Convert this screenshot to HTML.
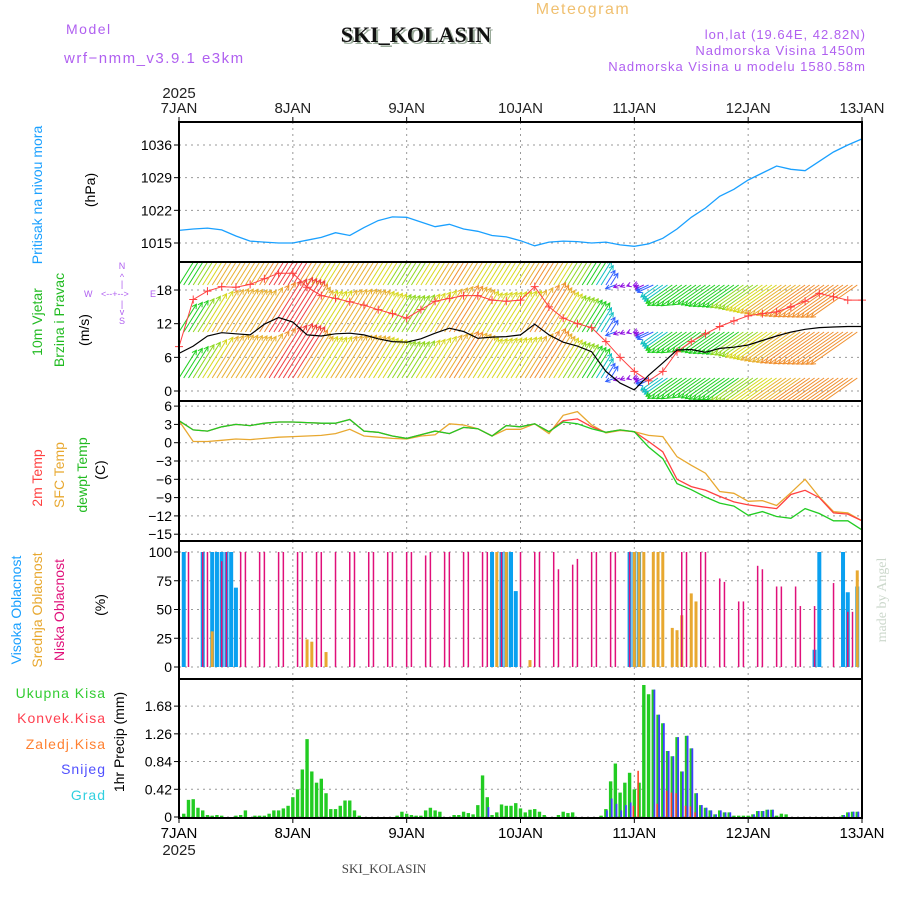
<!DOCTYPE html>
<html><head><meta charset="utf-8"><style>
html,body{margin:0;padding:0;background:#fff;}
svg{display:block;font-family:"Liberation Sans",sans-serif;}
</style></head><body>
<svg id="chart" width="900" height="900" viewBox="0 0 900 900">
<defs>
<clipPath id="cw"><rect x="179" y="262" width="683" height="139"/></clipPath>
</defs>
<rect x="0" y="0" width="900" height="900" fill="#fff"/>
<text x="66" y="34" font-size="14" fill="#b060f0" letter-spacing="1.5">Model</text>
<text x="64" y="63" font-size="15" fill="#b060f0" letter-spacing="1.5">wrf−nmm_v3.9.1  e3km</text>
<text x="418" y="44" font-size="22" font-weight="bold" font-family="Liberation Serif,serif" fill="#9a9" text-anchor="middle">SKI_KOLASIN</text>
<text x="416" y="42" font-size="22" font-weight="bold" font-family="Liberation Serif,serif" fill="#111" text-anchor="middle">SKI_KOLASIN</text>
<text x="583" y="14" font-size="16" fill="#f0c070" text-anchor="middle" letter-spacing="1.5">Meteogram</text>
<text x="866" y="39" font-size="13" fill="#b060f0" text-anchor="end" letter-spacing="1">lon,lat (19.64E, 42.82N)</text>
<text x="866" y="55" font-size="13" fill="#b060f0" text-anchor="end" letter-spacing="1">Nadmorska Visina 1450m</text>
<text x="866" y="71" font-size="13" fill="#b060f0" text-anchor="end" letter-spacing="1">Nadmorska Visina u modelu 1580.58m</text>
<text x="179" y="98" font-size="15" fill="#222" text-anchor="middle">2025</text>
<text transform="translate(42,195) rotate(-90)" font-size="14" fill="#1aa0ff" text-anchor="middle">Pritisak na nivou mora</text>
<text transform="translate(95,190) rotate(-90)" font-size="14" fill="#000" text-anchor="middle">(hPa)</text>
<text transform="translate(42,322) rotate(-90)" font-size="14" fill="#22bb22" text-anchor="middle">10m Vjetar</text>
<text transform="translate(64,320) rotate(-90)" font-size="14" fill="#22bb22" text-anchor="middle">Brzina i Pravac</text>
<text transform="translate(89,330) rotate(-90)" font-size="14" fill="#000" text-anchor="middle">(m/s)</text>
<g font-size="9" fill="#b060f0">
<text x="122" y="269" text-anchor="middle">N</text>
<text x="122" y="280" text-anchor="middle">^</text>
<text x="122" y="287" text-anchor="middle">|</text>
<text x="84" y="297">W</text>
<text x="101" y="297">&lt;--+--&gt;</text>
<text x="150" y="297">E</text>
<text x="122" y="307" text-anchor="middle">|</text>
<text x="122" y="315" text-anchor="middle">v</text>
<text x="122" y="324" text-anchor="middle">S</text>
</g>
<text transform="translate(42,478) rotate(-90)" font-size="14" fill="#ff4040" text-anchor="middle">2m Temp</text>
<text transform="translate(64,475) rotate(-90)" font-size="14" fill="#e8a830" text-anchor="middle">SFC Temp</text>
<text transform="translate(87,475) rotate(-90)" font-size="14" fill="#22bb22" text-anchor="middle">dewpt Temp</text>
<text transform="translate(105,470) rotate(-90)" font-size="14" fill="#000" text-anchor="middle">(C)</text>
<text transform="translate(21,610) rotate(-90)" font-size="14" fill="#1aa0ff" text-anchor="middle">Visoka Oblacnost</text>
<text transform="translate(42,610) rotate(-90)" font-size="14" fill="#e8a830" text-anchor="middle">Srednja Oblacnost</text>
<text transform="translate(64,610) rotate(-90)" font-size="14" fill="#e0107a" text-anchor="middle">Niska Oblacnost</text>
<text transform="translate(105,605) rotate(-90)" font-size="14" fill="#000" text-anchor="middle">(%)</text>
<g font-size="14" text-anchor="end" letter-spacing="1">
<text x="106" y="698" fill="#33cc33">Ukupna Kisa</text>
<text x="106" y="723" fill="#ff4050">Konvek.Kisa</text>
<text x="106" y="749" fill="#ff8030">Zaledj.Kisa</text>
<text x="106" y="774" fill="#5050ff">Snijeg</text>
<text x="106" y="800" fill="#30d0e0">Grad</text>
</g>
<text transform="translate(124,742) rotate(-90)" font-size="14" fill="#000" text-anchor="middle">1hr Precip (mm)</text>
<text x="179" y="855" font-size="15" fill="#222" text-anchor="middle">2025</text>
<text x="384" y="873" font-size="13" font-family="Liberation Serif,serif" fill="#444" text-anchor="middle">SKI_KOLASIN</text>
<text transform="translate(886,600) rotate(-90)" font-size="14" font-family="Liberation Serif,serif" fill="#ccd8cc" text-anchor="middle">made by Angel</text>
<g id="plot"></g>
</svg>
<script>
const dayLabels = ["7JAN","8JAN","9JAN","10JAN","11JAN","12JAN","13JAN"];
const pressTicks = [1015,1022,1029,1036];
const windTicks = [0,6,12,18];
const tempTicks = [6,3,0,-3,-6,-9,-12,-15];
const cloudTicks = [0,25,50,75,100];
const precipTicks = [0,0.42,0.84,1.26,1.68];
const pressure = [1017.7,1018,1018.2,1017.8,1016.5,1015.4,1015.2,1015,1015,1015.6,1016.2,1017.2,1016.6,1018.3,1019.8,1020.6,1020.5,1019.5,1018.5,1019,1018,1017.5,1016.6,1016.3,1015.5,1014.4,1015.2,1015.4,1015.3,1015,1015.2,1014.6,1014.3,1014.8,1016,1018,1020.5,1022.5,1025,1026.5,1028.5,1030,1031.5,1030.8,1030.5,1032.5,1034.5,1036,1037.3];
const windSpeed = [6.7,8.0,9.8,10.4,10.2,10.0,11.9,13.1,12.3,10.0,9.8,10.2,10.3,10.0,9.3,8.8,8.7,9.3,10.3,11.2,10.6,9.4,9.6,9.7,10.0,11.9,10.0,8.7,8.0,7.0,3.5,1.4,0.2,2.8,5.0,7.3,7.4,6.9,7.6,7.8,8.2,9.0,9.8,10.5,11.0,11.3,11.4,11.5,11.5];
const windGust = [7.9,16.3,17.8,18.6,18.5,19.0,20.0,21.0,21.0,18.5,17.0,16.5,15.9,15.3,14.5,13.8,13.0,14.5,16.0,16.5,17.0,17.0,16.2,16.0,16.2,18.6,15.0,13.0,12.0,11.3,8.8,6.0,3.5,1.8,3.5,7.0,8.8,10.2,11.5,12.5,13.4,13.8,14.1,15.0,16.0,17.4,16.8,16.2,16.2];
const windDir = [32,32,32,32,32,32,32,32,32,32,32,32,32,32,32,32,32,32,32,32,32,32,32,32,32,32,32,32,32,32,32,250,250,245,235,235,235,235,235,235,235,235,235,235,235,235,235,235,235];
const temp2m = [3.6,2.1,1.9,2.6,3.0,2.8,3.2,3.4,3.4,3.3,3.2,3.2,3.8,1.9,1.7,1.1,0.7,1.3,1.9,1.5,2.5,2.3,1.1,2.8,2.6,3.1,1.8,3.6,3.9,2.6,1.7,2.1,1.8,0.2,-1.5,-6.0,-7.2,-7.8,-8.8,-9.7,-10.2,-10.5,-10.8,-8.5,-7.8,-9.0,-11.5,-11.7,-12.8];
const tempSfc = [3.6,0.2,0.2,0.4,0.6,0.5,0.7,0.9,1.0,1.1,1.2,1.5,2.2,1.1,0.9,0.7,0.6,1.1,1.3,3.1,2.9,2.3,1.1,2.2,2.2,3.1,1.5,4.5,5.1,2.9,1.6,2.0,1.8,1.2,1.0,-2.3,-3.7,-5.0,-8.0,-8.3,-9.6,-9.5,-10.3,-8.2,-6.0,-8.9,-11.3,-11.5,-12.8];
const dewPoint = [3.6,2.1,1.9,2.6,3.0,2.8,3.2,3.4,3.4,3.3,3.2,3.2,3.8,1.9,1.7,1.1,0.7,1.3,1.9,1.5,2.5,2.3,1.1,2.8,2.6,3.1,1.8,3.4,3.1,2.3,1.7,2.1,1.8,-0.7,-2.6,-6.7,-7.7,-8.9,-9.9,-10.4,-11.9,-11.3,-12.1,-12.4,-10.8,-11.6,-12.8,-12.8,-14.3];
const lowCloud = [[2,100],[5,100],[6,100],[9,92],[10,100],[13,100],[14,100],[17,100],[18,100],[21,100],[22,100],[25,100],[26,100],[29,100],[30,100],[33,100],[36,100],[37,100],[40,100],[41,100],[44,100],[45,100],[48,100],[49,100],[52,97],[53,100],[56,100],[57,100],[60,100],[61,100],[64,100],[65,100],[68,100],[72,100],[75,100],[76,100],[79,100],[80,85],[83,89],[84,94],[87,100],[88,100],[91,100],[92,100],[95,100],[106,100],[107,100],[110,100],[111,100],[114,77],[115,74],[118,57],[119,57],[122,88],[123,85],[126,70],[127,70],[130,70],[131,53],[134,53],[138,73],[141,48],[142,48]];
const highCloud = [[1,100],[5,100],[7,100],[8,100],[9,100],[10,100],[11,100],[12,69],[66,100],[68,100],[69,100],[70,100],[71,66],[95,100],[96,100],[97,100],[134,15],[135,100],[140,100],[141,65],[143,70]];
const midCloud = [[7,31],[27,24],[28,22],[31,13],[67,100],[69,100],[74,6],[96,100],[97,100],[98,100],[100,100],[101,100],[102,100],[104,34],[105,32],[106,45],[108,64],[109,57],[143,84]];
const precipTotal = [[1,0.05],[2,0.26],[3,0.27],[4,0.14],[5,0.1],[6,0.03],[7,0.02],[8,0.03],[9,0.02],[12,0.02],[13,0.03],[14,0.1],[16,0.02],[17,0.02],[18,0.02],[19,0.05],[20,0.1],[21,0.1],[22,0.13],[23,0.17],[24,0.3],[25,0.42],[26,0.72],[27,1.18],[28,0.69],[29,0.52],[30,0.58],[31,0.36],[32,0.12],[33,0.12],[34,0.17],[35,0.25],[36,0.25],[37,0.1],[38,0.02],[46,0.02],[47,0.08],[48,0.05],[49,0.03],[50,0.02],[51,0.02],[52,0.1],[53,0.14],[54,0.1],[55,0.08],[58,0.03],[59,0.03],[60,0.08],[61,0.06],[62,0.04],[63,0.18],[64,0.63],[65,0.3],[66,0.03],[67,0.07],[68,0.19],[69,0.17],[70,0.17],[71,0.21],[72,0.13],[73,0.07],[74,0.11],[75,0.12],[76,0.08],[77,0.03],[80,0.03],[81,0.08],[82,0.06],[83,0.07],[89,0.02],[90,0.12],[91,0.54],[92,0.81],[93,0.37],[94,0.52],[95,0.67],[96,0.42],[97,0.52],[98,2.0],[99,1.86],[100,1.93],[101,1.55],[102,1.42],[103,1.0],[104,0.92],[105,1.21],[106,0.69],[107,1.23],[108,1.04],[109,0.36],[110,0.18],[111,0.14],[112,0.1],[113,0.04],[114,0.1],[115,0.07],[116,0.07],[117,0.02],[118,0.02],[119,0.02],[120,0.02],[121,0.04],[122,0.09],[123,0.09],[124,0.11],[125,0.11],[126,0.02],[127,0.05],[128,0.04],[140,0.03],[141,0.07],[142,0.08],[143,0.08]];
const precipSnow = [[65,0.15],[90,0.1],[91,0.28],[92,0.2],[93,0.1],[94,0.18],[95,0.22],[100,1.93],[101,1.55],[102,1.42],[103,1.0],[104,0.92],[105,1.21],[106,0.69],[107,1.23],[108,1.04],[109,0.36],[110,0.18],[111,0.14],[112,0.1],[113,0.04],[114,0.1],[115,0.07],[116,0.07],[121,0.04],[122,0.09],[123,0.09],[124,0.11],[125,0.11],[140,0.03],[141,0.07],[142,0.08],[143,0.08]];
const precipConv = [[96,0.17],[97,0.7],[101,0.2],[103,0.4],[104,0.37],[105,0.36],[107,0.17],[108,0.16],[109,0.07]];

const X0=179, X1=862, HW=(X1-X0)/144;
const xH = h => X0 + h*HW;
const yP = p => 243 - (p-1015)*4.667;
const yW = v => 391 - v*5.61;
const yT = t => 442.7 - t*6.1;
const yC = c => 667 - c*1.15;
const yR = r => 817 - r*66;
const NS="http://www.w3.org/2000/svg";
const plot=document.getElementById('plot');
function mk(tag, attrs, parent){const e=document.createElementNS(NS,tag);for(const k in attrs)e.setAttribute(k,attrs[k]);(parent||plot).appendChild(e);return e;}
function path3(arr, yf){return arr.map((v,i)=>(i?'L':'M')+xH(i*3).toFixed(1)+','+yf(v).toFixed(1)).join(' ');}
function interp(arr,h){const i=Math.min(Math.floor(h/3),arr.length-2);const f=(h-i*3)/3;return arr[i]*(1-f)+arr[i+1]*f;}

const panels=[{t:122,b:262,ticks:pressTicks,f:yP,fmt:v=>v,name:'pressure'},
{t:262,b:401,ticks:windTicks,f:yW,fmt:v=>v,name:'wind'},
{t:401,b:541,ticks:tempTicks,f:yT,fmt:v=>(v<0?'−'+(-v):v),name:'temp'},
{t:541,b:679,ticks:cloudTicks,f:yC,fmt:v=>v,name:'cloud'},
{t:679,b:818,ticks:precipTicks,f:yR,fmt:v=>v===0?'0':v.toFixed(2),name:'precip'}];

panels.forEach(p=>{
  const g=mk('g',{});
  
  
  for(let d=1;d<6;d++){mk('line',{x1:xH(d*24),x2:xH(d*24),y1:p.t,y2:p.b,stroke:'#999','stroke-dasharray':'2,4','stroke-width':1},g);}
  p.ticks.forEach(v=>{
    const y=p.f(v);
    mk('line',{x1:X0,x2:X1,y1:y,y2:y,stroke:'#999','stroke-dasharray':'2,4','stroke-width':1},g);
    mk('line',{x1:X0-5,x2:X0,y1:y,y2:y,stroke:'#000','stroke-width':1},g);
    const t=mk('text',{x:X0-7,y:y+5,'font-size':14,'text-anchor':'end',fill:'#000'});
    t.textContent=p.fmt(v);
    
    
  });
});
dayLabels.forEach((d,i)=>{
  const x=xH(i*24);
  const t1=mk('text',{x:x,y:113,'font-size':15,'text-anchor':'middle',fill:'#222'});
  t1.textContent=d;
  
  
  const t2=mk('text',{x:x,y:838,'font-size':15,'text-anchor':'middle',fill:'#000'});
  t2.textContent=d;
  
  
  mk('line',{x1:x,x2:x,y1:117,y2:122,stroke:'#000'});
  mk('line',{x1:x,x2:x,y1:818,y2:823,stroke:'#000'});
});

const pl=mk('path',{d:path3(pressure,yP),fill:'none',stroke:'#1aa0ff','stroke-width':1.3});



function wcol(s){if(s<2)return '#9010e0';if(s<4)return '#3060ff';if(s<6)return '#10c0c0';if(s<8)return '#20d020';if(s<9)return '#90d820';if(s<10)return '#d8d820';if(s<11)return '#e8b030';if(s<12.3)return '#f09030';return '#f04040';}
const wg=mk('g',{'clip-path':'url(#cw)'});


[285,332,378].forEach(base=>{
  for(let h=0;h<144;h++){
    const s=interp(windSpeed,h), dir=windDir[Math.round(h/3)]*Math.PI/180, L=s*4.9;
    const x=xH(h), x2=x+L*Math.sin(dir), y2=base-L*Math.cos(dir), c=wcol(s);
    const a=mk('path',{d:`M${x.toFixed(1)},${base}L${x2.toFixed(1)},${y2.toFixed(1)}`+
      `M${(x2-5*Math.sin(dir-0.5)).toFixed(1)},${(y2+5*Math.cos(dir-0.5)).toFixed(1)}L${x2.toFixed(1)},${y2.toFixed(1)}L${(x2-5*Math.sin(dir+0.5)).toFixed(1)},${(y2+5*Math.cos(dir+0.5)).toFixed(1)}`,
      fill:'none',stroke:c,'stroke-width':1},wg);
    
    
  }
});
const gl=mk('path',{d:path3(windGust,yW),fill:'none',stroke:'#ff4040','stroke-width':1});


windGust.forEach((v,i)=>{
  const x=xH(i*3),y=yW(v);
  const m=mk('path',{d:`M${x-4},${y}H${x+4}M${x},${y-4}V${y+4}`,stroke:'#ff4040','stroke-width':1});
  
  
});
const sl=mk('path',{d:path3(windSpeed,yW),fill:'none',stroke:'#000','stroke-width':1.2});



const tl1=mk('path',{d:path3(tempSfc,yT),fill:'none',stroke:'#e8a830','stroke-width':1.3});


const tl2=mk('path',{d:path3(temp2m,yT),fill:'none',stroke:'#ff4040','stroke-width':1.3});


const tl3=mk('path',{d:path3(dewPoint,yT),fill:'none',stroke:'#22cc22','stroke-width':1.3});



highCloud.forEach(([h,v])=>{
  const r=mk('rect',{x:xH(h)-2,y:yC(v),width:4,height:yC(0)-yC(v),fill:'#0aa0f0'});
  
  
});
midCloud.forEach(([h,v])=>{
  const r=mk('rect',{x:xH(h)-1.5,y:yC(v),width:3,height:yC(0)-yC(v),fill:'#e8a830'});
  
  
});
lowCloud.forEach(([h,v])=>{
  const r=mk('rect',{x:xH(h)-0.75,y:yC(v),width:1.5,height:yC(0)-yC(v),fill:'#e0107a'});
  
  
});

precipTotal.forEach(([h,v])=>{
  const r=mk('rect',{x:xH(h)-1.7,y:yR(v),width:3.4,height:yR(0)-yR(v),fill:'#22cc22'});
  
  
});
precipSnow.forEach(([h,v])=>{
  const r=mk('rect',{x:xH(h)+0.2,y:yR(v),width:1.8,height:yR(0)-yR(v),fill:'#4040ff'});
  
  
});
precipConv.forEach(([h,v])=>{
  const r=mk('rect',{x:xH(h)-1.7,y:yR(v),width:1.5,height:yR(0)-yR(v),fill:'#ff4020'});
  
  
});

panels.forEach(p=>{
  const r=mk('rect',{x:X0,y:p.t,width:X1-X0,height:p.b-p.t,fill:'none',stroke:'#000','stroke-width':2});
  
  
});
</script>
</body></html>
